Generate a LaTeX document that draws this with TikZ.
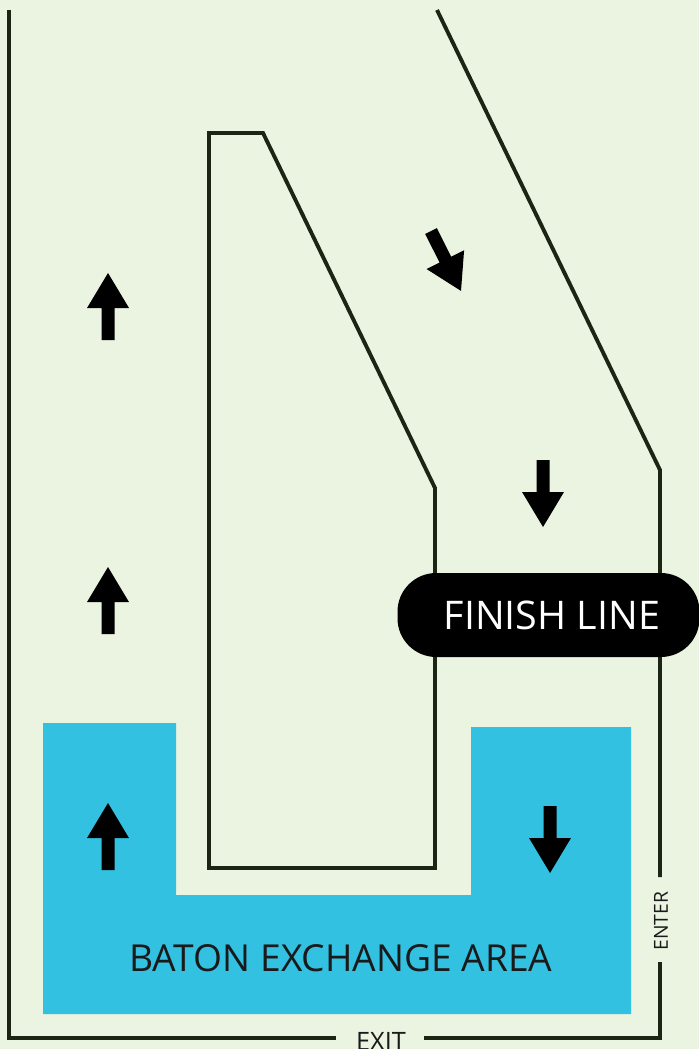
\documentclass[tikz,border=0pt]{standalone}
\usepackage{fontspec}
\setmainfont{Open Sans}
\definecolor{bg}{HTML}{EBF4E1}
\definecolor{cyanarea}{HTML}{33C1E2}
\definecolor{wall}{HTML}{1C2414}
\definecolor{txt}{HTML}{1A1A1A}
\begin{document}
\begin{tikzpicture}[x=0.75pt,y=-0.75pt,
  wallline/.style={draw=wall,line width=2.9pt,line join=miter},
  blockarrow/.pic={\fill[black] (-6.5,0) -- (6.5,0) -- (6.5,32) -- (21,32) -- (0,67) -- (-21,32) -- (-6.5,32) -- cycle;},
  lbl/.style={inner sep=0pt,font=\fontsize{27.9pt}{30pt}\selectfont,text=txt}]
\fill[bg] (0,0) rectangle (699,1049);
\useasboundingbox (0,0) rectangle (699,1049);
% baton exchange area
\fill[cyanarea] (43,723) -- (176,723) -- (176,895) -- (471,895) -- (471,727) -- (631,727) -- (631,1014) -- (43,1014) -- cycle;
% outer walls
\draw[wallline] (9,10) -- (9,1038) -- (336,1038);
\draw[wallline] (424,1038) -- (660,1038) -- (660,962);
\draw[wallline] (660,877) -- (660,470) -- (437,10);
% inner island
\draw[wallline] (209,868) -- (209,133) -- (263,133) -- (435,488) -- (435,868) -- cycle;
% finish line
\node[fill=black,rounded corners=29pt,minimum width=226.5pt,minimum height=63pt,inner sep=0pt] (finish) at (548.5,615) {};
\node[inner sep=0pt,text=white,font=\fontsize{29.6pt}{31pt}\selectfont] (finishtext) at (552,615) {FINISH LINE};
% labels
\node[lbl,anchor=base] (baton) at (341,971) {BATON EXCHANGE AREA};
\node[inner sep=0pt,anchor=base,text=txt,font=\fontsize{19pt}{20pt}\selectfont] (exit) at (381,1050) {EXIT};
\node[inner sep=0pt,rotate=90,text=txt,font=\fontsize{14.5pt}{16pt}\selectfont] (enter) at (661,921) {ENTER};
% arrows
\pic[rotate=180] at (108,340) {blockarrow};
\pic[rotate=180] at (108,634) {blockarrow};
\pic[rotate=180] at (108,870) {blockarrow};
\pic at (543,460) {blockarrow};
\pic at (550,806) {blockarrow};
\pic[rotate=26.6] at (431,231) {blockarrow};
\end{tikzpicture}
\end{document}
